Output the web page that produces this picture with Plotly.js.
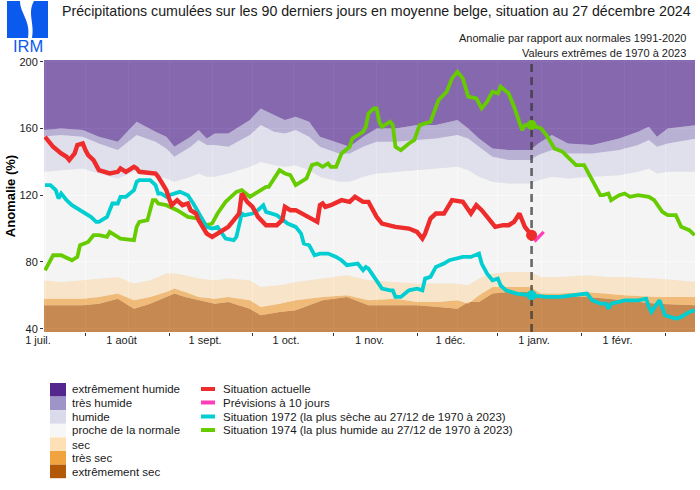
<!DOCTYPE html>
<html><head><meta charset="utf-8">
<script src="https://cdn.plot.ly/plotly-3.0.1.min.js"></script>
<style>html,body{margin:0;padding:0;background:#fff;}#chart{width:700px;height:490px;}</style>
</head><body><div id="chart"></div>
<script>
// ---------------- texts ----------------
const TITLE = "Précipitations cumulées sur les 90 derniers jours en moyenne belge, situation au 27 décembre 2024";
const SUBTITLE_1 = "Anomalie par rapport aux normales 1991-2020";
const SUBTITLE_2 = "Valeurs extrêmes de 1970 à 2023";
const Y_TITLE = "Anomalie (%)";
const LOGO_TEXT = "IRM";

// ---------------- axes ----------------
const X_RANGE = ["2024-06-30 15:00", "2025-02-27 03:00"];
const Y_RANGE = [38, 201];
const Y_TICKS = [40, 80, 120, 160, 200];
const MONTH_TICKS = ["2024-07-01","2024-08-01","2024-09-01","2024-10-01","2024-11-01","2024-12-01","2025-01-01","2025-02-01"];
const MONTH_LABELS = ["1 juil.","1 août","1 sept.","1 oct.","1 nov.","1 déc.","1 janv.","1 févr."];
const MID_MONTH_TICKS = ["2024-07-16","2024-08-16","2024-09-16","2024-10-16","2024-11-16","2024-12-16","2025-01-16","2025-02-16"];
const CURRENT_DATE = "2024-12-28 12:00";

// ---------------- climatological bands ----------------
const BAND_NAMES = ["extrêmement humide","très humide","humide","proche de la normale","sec","très sec","extrêmement sec"];
const BAND_COLORS = ["#54278F","#9E94C8","#DADAEB","#F7F7F7","#FEE0B6","#F1A340","#B35806"];
const BAND_CEILING = [210, 210];

const DATES_UPPER = ["2024-06-30","2024-07-07","2024-07-15","2024-07-21","2024-07-28","2024-08-04","2024-08-11","2024-08-15","2024-08-18","2024-08-24","2024-08-27","2024-08-30","2024-09-02","2024-09-07","2024-09-15","2024-09-19","2024-09-24","2024-09-28","2024-10-02","2024-10-07","2024-10-11","2024-10-18","2024-10-22","2024-10-27","2024-11-01","2024-11-08","2024-11-16","2024-11-23","2024-12-01","2024-12-05","2024-12-09","2024-12-14","2024-12-20","2024-12-28","2024-12-31","2025-01-05","2025-01-11","2025-01-20","2025-01-30","2025-02-06","2025-02-10","2025-02-13","2025-02-17","2025-02-28"];
const VERY_WET_TOP = [159,160,159,155,152,164,158,155,149,155,159,154,157,157,165,172,168,165,167,164,155,151,149,155,160,160,162,162,165,160,154,148,147,147,151,156,151,150,154,158,161,155,160,162];
const WET_TOP      = [155,156,155,151,147,156,152,148,143,149,153,150,150,149,156,162,158,157,159,155,149,145,145,149,152,152,153,154,156,154,149,143,141,141,144,147,145,145,147,150,153,149,151,154];
const NORMAL_TOP   = [134,135,136,133,130,135,132,130,128,131,133,131,131,133,137,140,138,137,138,135,131,128,128,131,133,134,135,136,137,135,131,128,127,127,129,131,130,131,132,134,136,133,134,134];

const DATES_LOWER = ["2024-06-30","2024-07-07","2024-07-15","2024-07-21","2024-07-28","2024-08-03","2024-08-09","2024-08-15","2024-08-18","2024-08-22","2024-08-27","2024-09-02","2024-09-07","2024-09-15","2024-09-19","2024-09-26","2024-10-02","2024-10-12","2024-10-21","2024-10-29","2024-11-08","2024-11-16","2024-11-24","2024-12-01","2024-12-05","2024-12-09","2024-12-14","2024-12-20","2024-12-28","2025-01-01","2025-01-08","2025-01-18","2025-01-26","2025-02-01","2025-02-13","2025-02-28"];
const DRY_TOP         = [69,68,69,70,71,67,69,73,73,72,70,69,70,69,65,66,68,70,72,69,68,67,67,67,66,70,73,74,74,71,71,72,71,71,70,68];
const VERY_DRY_TOP    = [58,58,58,59,61,57,59,62,64,62,59,58,59,57,53,55,57,59,60,57,58,56,56,57,55,60,65,65,65,61,61,62,61,60,59,59];
const EXTREME_DRY_TOP = [54,54,54,55,58,52,55,59,61,59,57,55,56,52,48,50,51,57,59,54,54,54,53,52,56,56,61,62,62,59,59,59,58,57,55,54];

// ---------------- series ----------------
const SERIES_NAMES = ["Situation actuelle","Prévisions à 10 jours","Situation 1972 (la plus sèche au 27/12 de 1970 à 2023)","Situation 1974 (la plus humide au 27/12 de 1970 à 2023)"];
const SERIES_COLORS = ["#EE2C2C","#FF3DB8","#00CED1","#66CC00"];

const CURRENT_DATES = ["2024-07-01","2024-07-04","2024-07-07","2024-07-09","2024-07-10","2024-07-11","2024-07-12","2024-07-13","2024-07-15","2024-07-16","2024-07-17","2024-07-19","2024-07-21","2024-07-25","2024-07-28","2024-07-29","2024-07-31","2024-08-03","2024-08-04","2024-08-05","2024-08-11","2024-08-12","2024-08-15","2024-08-16","2024-08-17","2024-08-19","2024-08-21","2024-08-23","2024-08-24","2024-08-26","2024-08-27","2024-08-30","2024-09-01","2024-09-03","2024-09-07","2024-09-11","2024-09-12","2024-09-14","2024-09-16","2024-09-18","2024-09-21","2024-09-25","2024-09-27","2024-09-28","2024-09-30","2024-10-02","2024-10-07","2024-10-10","2024-10-11","2024-10-12","2024-10-13","2024-10-15","2024-10-19","2024-10-22","2024-10-24","2024-10-27","2024-10-29","2024-11-01","2024-11-03","2024-11-08","2024-11-13","2024-11-16","2024-11-18","2024-11-19","2024-11-21","2024-11-23","2024-11-26","2024-11-29","2024-12-03","2024-12-05","2024-12-06","2024-12-08","2024-12-10","2024-12-13","2024-12-15","2024-12-18","2024-12-20","2024-12-22","2024-12-24","2024-12-26",CURRENT_DATE];
const CURRENT_VALUES = [155,149,145,143,141,143,145,150,151,147,144,141,135,133,134,136,134,137,136,134,133,131,123,118,114,117,114,115,111,109,105,97,95,97,101,109,121,116,113,107,102,102,105,113,111,111,107,104,114,115,113,114,117,116,119,116,116,107,103,101,100,98,94,97,106,109,109,117,116,112,109,114,111,105,101,102,102,104,109,101,96];

const FORECAST_DATES = [CURRENT_DATE,"2024-12-30","2025-01-02"];
const FORECAST_VALUES = [96,93,98];

const DRY1972_DATES = ["2024-07-01","2024-07-03","2024-07-05","2024-07-06","2024-07-07","2024-07-09","2024-07-11","2024-07-15","2024-07-18","2024-07-20","2024-07-21","2024-07-24","2024-07-26","2024-07-28","2024-07-29","2024-07-31","2024-08-03","2024-08-04","2024-08-05","2024-08-09","2024-08-11","2024-08-12","2024-08-13","2024-08-15","2024-08-16","2024-08-20","2024-08-23","2024-08-25","2024-08-27","2024-08-30","2024-09-01","2024-09-03","2024-09-06","2024-09-09","2024-09-10","2024-09-12","2024-09-13","2024-09-16","2024-09-18","2024-09-20","2024-09-21","2024-09-25","2024-09-29","2024-10-02","2024-10-04","2024-10-05","2024-10-07","2024-10-09","2024-10-11","2024-10-14","2024-10-17","2024-10-19","2024-10-21","2024-10-25","2024-10-27","2024-10-28","2024-10-29","2024-11-01","2024-11-03","2024-11-06","2024-11-07","2024-11-08","2024-11-10","2024-11-13","2024-11-16","2024-11-18","2024-11-19","2024-11-21","2024-11-23","2024-11-26","2024-11-28","2024-12-03","2024-12-06","2024-12-09","2024-12-10","2024-12-12","2024-12-14","2024-12-16","2024-12-17","2024-12-19","2024-12-23",CURRENT_DATE,"2025-01-03","2025-01-08","2025-01-13","2025-01-18","2025-01-20","2025-01-23","2025-01-25","2025-01-26","2025-01-27","2025-01-30","2025-02-01","2025-02-06","2025-02-09","2025-02-10","2025-02-11","2025-02-13","2025-02-14","2025-02-16","2025-02-20","2025-02-22","2025-02-25","2025-02-27"];
const DRY1972_VALUES = [126,126,123,118,121,117,114,110,107,104,104,107,115,115,119,119,123,128,129,129,126,121,121,119,120,122,120,115,109,101,100,101,94,93,95,109,108,109,111,114,110,108,103,101,97,91,90,84,85,85,83,81,78,79,75,77,76,69,64,63,63,59,59,63,64,63,70,71,77,79,81,83,83,85,79,73,69,70,66,63,61,60,59,59,60,61,57,55,55,52,55,56,57,57,58,53,50,55,57,48,46,47,50,51];

const WET1974_DATES = ["2024-07-01","2024-07-02","2024-07-04","2024-07-07","2024-07-10","2024-07-11","2024-07-13","2024-07-14","2024-07-17","2024-07-19","2024-07-21","2024-07-24","2024-07-25","2024-07-29","2024-08-03","2024-08-04","2024-08-05","2024-08-08","2024-08-10","2024-08-11","2024-08-12","2024-08-15","2024-08-19","2024-08-23","2024-08-27","2024-08-30","2024-09-01","2024-09-03","2024-09-06","2024-09-08","2024-09-10","2024-09-12","2024-09-15","2024-09-18","2024-09-21","2024-09-22","2024-09-25","2024-09-26","2024-09-28","2024-09-30","2024-10-02","2024-10-06","2024-10-08","2024-10-10","2024-10-12","2024-10-14","2024-10-15","2024-10-17","2024-10-19","2024-10-22","2024-10-23","2024-10-25","2024-10-27","2024-10-28","2024-10-29","2024-10-31","2024-11-01","2024-11-02","2024-11-03","2024-11-06","2024-11-07","2024-11-08","2024-11-10","2024-11-13","2024-11-15","2024-11-17","2024-11-21","2024-11-24","2024-11-27","2024-11-29","2024-12-01","2024-12-03","2024-12-05","2024-12-08","2024-12-10","2024-12-12","2024-12-14","2024-12-16","2024-12-17","2024-12-20","2024-12-22","2024-12-25","2024-12-26",CURRENT_DATE,"2025-01-01","2025-01-03","2025-01-06","2025-01-09","2025-01-12","2025-01-14","2025-01-17","2025-01-19","2025-01-20","2025-01-22","2025-01-23","2025-01-24","2025-01-26","2025-01-27","2025-01-30","2025-02-01","2025-02-03","2025-02-06","2025-02-10","2025-02-12","2025-02-15","2025-02-17","2025-02-20","2025-02-22","2025-02-25","2025-02-27"];
const WET1974_VALUES = [75,78,84,84,82,81,83,90,92,96,96,95,98,94,93,101,104,105,117,117,115,114,111,107,106,102,103,109,116,119,122,123,119,122,125,125,132,135,133,132,126,130,138,139,137,139,137,137,145,149,154,156,158,161,169,172,172,164,161,164,162,149,147,151,153,162,164,177,182,190,194,190,179,178,172,176,182,181,185,181,173,159,162,162,160,156,148,146,141,138,138,132,130,123,120,120,121,117,120,121,119,120,119,117,110,108,108,101,99,96];

// ---------------- build ----------------
const FONT = "Liberation Sans, Arial, Helvetica, sans-serif";
const ALPHA = 0.67;
function rgba(hex, a){const n=parseInt(hex.slice(1),16);return `rgba(${(n>>16)&255},${(n>>8)&255},${n&255},${a})`;}

const bandTraces = [];
const bandDefs = [
  {x:DATES_LOWER, y:EXTREME_DRY_TOP, fill:'tozeroy', c:6},
  {x:DATES_LOWER, y:VERY_DRY_TOP, fill:'tonexty', c:5},
  {x:DATES_LOWER, y:DRY_TOP, fill:'tonexty', c:4},
  {x:DATES_UPPER, y:NORMAL_TOP, fill:'tonexty', c:3},
  {x:DATES_UPPER, y:WET_TOP, fill:'tonexty', c:2},
  {x:DATES_UPPER, y:VERY_WET_TOP, fill:'tonexty', c:1},
  {x:[DATES_UPPER[0], DATES_UPPER[DATES_UPPER.length-1]], y:BAND_CEILING, fill:'tonexty', c:0}
];
bandDefs.forEach(b=>bandTraces.push({type:'scatter',mode:'lines',x:b.x,y:b.y,fill:b.fill,fillcolor:rgba(BAND_COLORS[b.c],ALPHA),line:{width:0,color:'rgba(0,0,0,0)'},hoverinfo:'skip',showlegend:false,name:BAND_NAMES[b.c]}));

const dashTrace = {type:'scatter',mode:'lines',x:[CURRENT_DATE,CURRENT_DATE],y:[Y_RANGE[0],Y_RANGE[1]],line:{color:'rgba(50,50,50,0.72)',width:2.6,dash:'8px,5px'},hoverinfo:'skip',showlegend:false};

function lineTrace(x,y,color,w,name){return {type:'scatter',mode:'lines',x:x,y:y,line:{color:color,width:w},name:name,showlegend:false,hoverinfo:'skip'};}
function valueAt(dates, values){return values[dates.indexOf(CURRENT_DATE)];}
function dotTrace(dates, values, color, size){return {type:'scatter',mode:'markers',x:[CURRENT_DATE],y:[valueAt(dates,values)],marker:{color:color,size:size,opacity:1,line:{width:0}},showlegend:false,hoverinfo:'skip'};}

const data = bandTraces.concat([
  dashTrace,
  lineTrace(WET1974_DATES,WET1974_VALUES,SERIES_COLORS[3],3.8,SERIES_NAMES[3]),
  lineTrace(DRY1972_DATES,DRY1972_VALUES,SERIES_COLORS[2],3.8,SERIES_NAMES[2]),
  lineTrace(CURRENT_DATES,CURRENT_VALUES,SERIES_COLORS[0],4.4,SERIES_NAMES[0]),
  lineTrace(FORECAST_DATES,FORECAST_VALUES,SERIES_COLORS[1],3.2,SERIES_NAMES[1]),
  dotTrace(WET1974_DATES,WET1974_VALUES,SERIES_COLORS[3],10),
  dotTrace(DRY1972_DATES,DRY1972_VALUES,SERIES_COLORS[2],10),
  dotTrace(CURRENT_DATES,CURRENT_VALUES,SERIES_COLORS[0],11)
]);

// pixel -> paper helpers (plot area: x 44..695, y 60..332)
const L=44, R=5, T=60, B=158, W=700, H=490;
const PW=W-L-R, PH=H-T-B;
const px2x = p => (p-L)/PW;
const py2y = p => (H-B-p)/PH;

const shapes = [];
const annotations = [];

// legend: bands (left column)
const LEG_TEXT_Y = [389,402.5,416.5,430,444.5,458.3,472.3];
BAND_NAMES.forEach((n,i)=>{
  const top = 383 + i*13.6;
  shapes.push({type:'rect',xref:'paper',yref:'paper',x0:px2x(50),x1:px2x(66),y0:py2y(top),y1:py2y(top+13.6),fillcolor:BAND_COLORS[i],line:{width:0},layer:'above'});
  annotations.push({xref:'paper',yref:'paper',x:px2x(70),y:py2y(LEG_TEXT_Y[i]),xanchor:'left',yanchor:'middle',text:n,showarrow:false,font:{size:11.5,color:'#1a1a1a',family:FONT}});
});
// legend: series (right column)
SERIES_NAMES.forEach((n,i)=>{
  const yc = LEG_TEXT_Y[i];
  shapes.push({type:'line',xref:'paper',yref:'paper',x0:px2x(201),x1:px2x(215),y0:py2y(yc),y1:py2y(yc),line:{color:SERIES_COLORS[i],width:4},layer:'above'});
  annotations.push({xref:'paper',yref:'paper',x:px2x(221),y:py2y(yc),xanchor:'left',yanchor:'middle',text:n,showarrow:false,font:{size:11.5,color:'#1a1a1a',family:FONT}});
});
// subtitles
annotations.push({xref:'paper',yref:'paper',x:px2x(688),y:py2y(38),xanchor:'right',yanchor:'middle',text:SUBTITLE_1,showarrow:false,font:{size:11,color:'#1a1a1a',family:FONT}});
annotations.push({xref:'paper',yref:'paper',x:px2x(688),y:py2y(53),xanchor:'right',yanchor:'middle',text:SUBTITLE_2,showarrow:false,font:{size:11,color:'#1a1a1a',family:FONT}});

// logo
const LOGO_BLUE = "#0A5AEE";
function pxPath(cmds){return cmds.map(c=>{const k=c[0];const v=c.slice(1);const out=[];for(let i=0;i<v.length;i+=2){out.push(px2x(v[i]).toFixed(5)+','+py2y(v[i+1]).toFixed(5));}return k+out.join(' ');}).join(' ')+' Z';}
shapes.push({type:'path',xref:'paper',yref:'paper',path:pxPath([['M',7,1],['L',20,1],['C',20,13,31,21,28,38],['L',7,38]]),fillcolor:LOGO_BLUE,line:{width:0},layer:'above'});
shapes.push({type:'path',xref:'paper',yref:'paper',path:pxPath([['M',34,1],['L',48,1],['L',48,38],['L',32,38],['C',35,24,27,13,34,1]]),fillcolor:LOGO_BLUE,line:{width:0},layer:'above'});
annotations.push({xref:'paper',yref:'paper',x:px2x(27.5),y:py2y(45.5),xanchor:'center',yanchor:'middle',text:LOGO_TEXT,showarrow:false,font:{size:16.5,color:LOGO_BLUE,family:FONT}});

const layout = {
  width:W,height:H,
  margin:{l:L,r:R,t:T,b:B,pad:0},
  paper_bgcolor:'#ffffff',plot_bgcolor:'#EBEBEB',
  font:{family:FONT,size:11,color:'#1a1a1a'},
  title:{text:TITLE,x:62/W,xanchor:'left',xref:'container',y:1-11/H,yref:'container',yanchor:'middle',font:{size:14.2,color:'#1a1a1a',family:FONT}},
  xaxis:{type:'date',range:X_RANGE,tickmode:'array',tickvals:MONTH_TICKS,ticktext:MONTH_LABELS,ticks:'',ticklabelshift:-7,
    showgrid:true,gridcolor:'#ffffff',gridwidth:0.8,zeroline:false,showline:false,fixedrange:true,
    tickfont:{size:11,color:'#1a1a1a'},
    minor:{tickmode:'array',tickvals:MID_MONTH_TICKS,ticks:'outside',ticklen:3,tickwidth:1,tickcolor:'#333333',showgrid:true,gridcolor:'#ffffff',gridwidth:1}},
  yaxis:{range:Y_RANGE,tickmode:'array',tickvals:Y_TICKS,ticks:'outside',ticklen:3,tickwidth:1,tickcolor:'#333333',
    showgrid:true,gridcolor:'#ffffff',gridwidth:1,zeroline:false,showline:false,fixedrange:true,
    tickfont:{size:11,color:'#1a1a1a'},
    title:{text:Y_TITLE,font:{size:13,weight:'bold',color:'#000000'},standoff:0}},
  shapes:shapes,annotations:annotations,showlegend:false,hovermode:false
};
Plotly.newPlot('chart',data,layout,{displayModeBar:false,staticPlot:true});
</script></body></html>
